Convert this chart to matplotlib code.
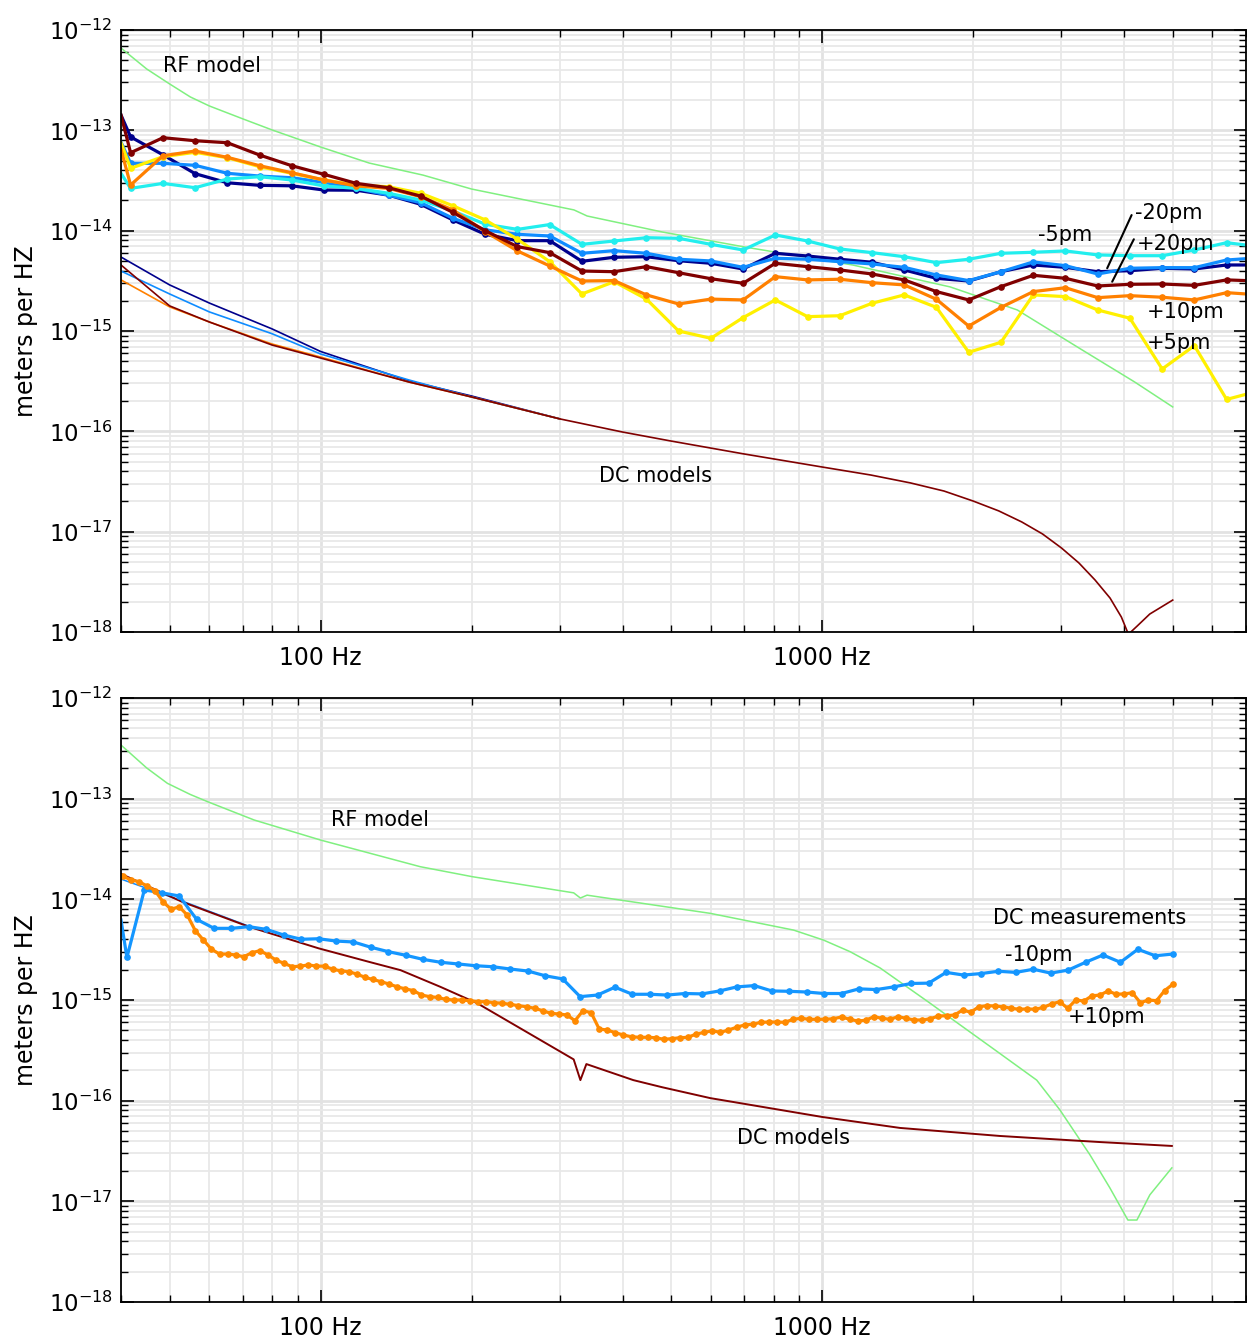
import numpy as np
import matplotlib
matplotlib.use('Agg')
import matplotlib.pyplot as plt
from matplotlib.ticker import FixedLocator, FixedFormatter, NullFormatter, LogFormatterSciNotation

# ---------------- data: top panel (RF measurements) ----------------
freq_top = [40.0, 41.8, 48.5, 56.2, 65.2, 75.6, 87.6, 101.6, 117.8, 136.6, 158.4, 183.6,
            212.9, 246.9, 286.3, 331.9, 384.9, 446.3, 517.4, 600.0, 695.7, 806.6, 935.3,
            1084.5, 1257.5, 1458, 1690, 1960, 2273, 2636, 3056, 3543, 4108, 4764, 5523,
            6404, 7000]
m20pm = [1.42e-13, 8.6e-14, 5.7e-14, 3.7e-14, 3.0e-14, 2.83e-14, 2.8e-14, 2.54e-14, 2.53e-14,
         2.26e-14, 1.83e-14, 1.28e-14, 9.2e-15, 7.95e-15, 7.95e-15, 4.95e-15, 5.43e-15, 5.5e-15,
         5.02e-15, 4.73e-15, 4.15e-15, 5.95e-15, 5.59e-15, 5.19e-15, 4.84e-15, 4.06e-15, 3.35e-15,
         3.15e-15, 3.9e-15, 4.55e-15, 4.31e-15, 3.9e-15, 3.99e-15, 4.22e-15, 4.15e-15, 4.55e-15,
         4.55e-15]
m10pm = [7.65e-14, 4.69e-14, 4.69e-14, 4.48e-14, 3.73e-14, 3.5e-14, 3.37e-14, 3.03e-14, 2.64e-14,
         2.26e-14, 1.9e-14, 1.33e-14, 1.02e-14, 9.2e-15, 8.85e-15, 5.95e-15, 6.32e-15, 5.95e-15,
         5.19e-15, 4.99e-15, 4.31e-15, 5.31e-15, 5.19e-15, 4.91e-15, 4.66e-15, 4.31e-15, 3.62e-15,
         3.18e-15, 3.9e-15, 4.88e-15, 4.48e-15, 3.7e-15, 4.22e-15, 4.28e-15, 4.28e-15, 5.1e-15,
         5.26e-15]
m5pm = [3.73e-14, 2.64e-14, 2.96e-14, 2.68e-14, 3.27e-14, 3.45e-14, 3.2e-14, 2.79e-14, 2.64e-14,
        2.36e-14, 2.02e-14, 1.57e-14, 1.16e-14, 1.03e-14, 1.15e-14, 7.31e-15, 7.89e-15, 8.51e-15,
        8.39e-15, 7.31e-15, 6.42e-15, 9.06e-15, 7.89e-15, 6.57e-15, 6.04e-15, 5.5e-15, 4.8e-15,
        5.19e-15, 5.95e-15, 6.09e-15, 6.28e-15, 5.73e-15, 5.63e-15, 5.63e-15, 6.42e-15, 7.59e-15,
        7.19e-15]
p5pm = [7.52e-14, 4.18e-14, 5.46e-14, 6.04e-14, 5.33e-14, 4.34e-14, 3.73e-14, 3.2e-14, 2.85e-14,
        2.74e-14, 2.36e-14, 1.77e-14, 1.28e-14, 8.21e-15, 4.91e-15, 2.34e-15, 3.1e-15, 2.08e-15,
        1.0e-15, 8.46e-16, 1.36e-15, 2.04e-15, 1.39e-15, 1.42e-15, 1.89e-15, 2.29e-15, 1.72e-15,
        6.14e-16, 7.72e-16, 2.29e-15, 2.2e-15, 1.62e-15, 1.34e-15, 4.18e-16, 7.14e-16, 2.08e-16,
        2.34e-16]
p10pm = [6.47e-14, 2.85e-14, 5.58e-14, 6.22e-14, 5.38e-14, 4.44e-14, 3.78e-14, 3.2e-14, 2.79e-14,
         2.64e-14, 2.18e-14, 1.61e-14, 9.77e-15, 6.28e-15, 4.45e-15, 3.15e-15, 3.18e-15, 2.29e-15,
         1.86e-15, 2.08e-15, 2.04e-15, 3.48e-15, 3.23e-15, 3.28e-15, 3.03e-15, 2.88e-15, 2.07e-15,
         1.12e-15, 1.72e-15, 2.47e-15, 2.7e-15, 2.15e-15, 2.25e-15, 2.17e-15, 2.04e-15, 2.41e-15,
         2.34e-15]
p20pm = [1.42e-13, 5.98e-14, 8.44e-14, 7.88e-14, 7.52e-14, 5.67e-14, 4.44e-14, 3.64e-14, 2.96e-14,
         2.68e-14, 2.21e-14, 1.52e-14, 1.0e-14, 6.93e-15, 6.04e-15, 3.96e-15, 3.9e-15, 4.38e-15,
         3.81e-15, 3.32e-15, 2.99e-15, 4.73e-15, 4.38e-15, 4.06e-15, 3.7e-15, 3.23e-15, 2.47e-15,
         2.04e-15, 2.77e-15, 3.59e-15, 3.35e-15, 2.81e-15, 2.92e-15, 2.94e-15, 2.85e-15, 3.23e-15,
         3.18e-15]

rf_top_f = [40, 45, 50, 55, 60, 70, 80, 100, 125, 160, 200, 250, 320, 340, 480, 700, 1150, 1800,
            2450, 3300, 4200, 5000]
rf_top = [6.61e-13, 4.09e-13, 2.90e-13, 2.15e-13, 1.75e-13, 1.30e-13, 1.01e-13, 6.82e-14,
          4.72e-14, 3.58e-14, 2.60e-14, 2.07e-14, 1.61e-14, 1.40e-14, 9.70e-15, 6.88e-15,
          4.55e-15, 2.75e-15, 1.62e-15, 6.47e-16, 3.10e-16, 1.75e-16]

dc_top_f = [40, 50, 60, 80, 100, 150, 200, 300, 400, 500, 700, 1000, 1250, 1500, 1750, 2000,
            2250, 2500, 2750, 3000, 3250, 3500, 3750, 3950, 4080, 4250, 4500, 5000]
dc_top_p20 = [4.55e-15, 1.78e-15, 1.23e-15, 7.25e-16, 5.38e-16, 3.10e-16, 2.20e-16, 1.33e-16,
              9.84e-17, 8.0e-17, 5.94e-17, 4.41e-17, 3.67e-17, 3.06e-17, 2.54e-17, 2.02e-17,
              1.61e-17, 1.25e-17, 9.49e-18, 6.88e-18, 4.88e-18, 3.30e-18, 2.18e-18, 1.41e-18,
              9.5e-19, 1.15e-18, 1.51e-18, 2.08e-18]
dc_low_f = [40, 50, 60, 80, 100, 150, 200, 300]
dc_top_m20 = [5.46e-15, 2.88e-15, 1.90e-15, 1.05e-15, 6.25e-16, 3.18e-16, 2.25e-16, 1.33e-16]
dc_top_m10 = [3.96e-15, 2.34e-15, 1.55e-15, 9.4e-16, 5.90e-16, 3.25e-16, 2.2e-16, 1.33e-16]
dc_top_p10 = [3.23e-15, 1.74e-15, 1.23e-15, 7.42e-16, 5.5e-16, 3.10e-16, 2.2e-16, 1.33e-16]

# ---------------- data: bottom panel (DC measurements) ----------------
f_bot_m10 = np.concatenate([[40.0], np.geomspace(41.1, 5000, 61)])
bot_m10 = [6.23e-15, 2.65e-15, 1.24e-14, 1.16e-14, 1.08e-14, 6.33e-15, 5.15e-15, 5.15e-15,
           5.35e-15, 5.03e-15, 4.42e-15, 4.01e-15, 4.06e-15, 3.85e-15, 3.77e-15, 3.34e-15,
           3.02e-15, 2.78e-15, 2.53e-15, 2.37e-15, 2.28e-15, 2.19e-15, 2.14e-15, 2.03e-15,
           1.94e-15, 1.74e-15, 1.62e-15, 1.08e-15, 1.12e-15, 1.34e-15, 1.14e-15, 1.14e-15,
           1.12e-15, 1.16e-15, 1.15e-15, 1.23e-15, 1.35e-15, 1.39e-15, 1.23e-15, 1.22e-15,
           1.20e-15, 1.16e-15, 1.16e-15, 1.29e-15, 1.27e-15, 1.35e-15, 1.46e-15, 1.47e-15,
           1.88e-15, 1.77e-15, 1.83e-15, 1.93e-15, 1.88e-15, 2.02e-15, 1.85e-15, 1.98e-15,
           2.37e-15, 2.80e-15, 2.37e-15, 3.19e-15, 2.75e-15, 2.86e-15]
f_bot_p10 = np.geomspace(40.3, 5000, 131)
bot_p10 = [1.71e-14, 1.56e-14, 1.50e-14, 1.36e-14, 1.22e-14, 9.47e-15, 7.96e-15, 8.44e-15, 6.98e-15, 4.88e-15,
           3.94e-15, 3.19e-15, 2.86e-15, 2.86e-15, 2.80e-15, 2.69e-15, 2.95e-15, 3.09e-15, 2.80e-15, 2.49e-15,
           2.31e-15, 2.14e-15, 2.17e-15, 2.23e-15, 2.17e-15, 2.17e-15, 2.02e-15, 1.95e-15, 1.91e-15, 1.81e-15,
           1.68e-15, 1.60e-15, 1.52e-15, 1.44e-15, 1.35e-15, 1.29e-15, 1.24e-15, 1.12e-15, 1.08e-15, 1.06e-15,
           1.015e-15, 1.0e-15, 1.0e-15, 9.84e-16, 9.62e-16, 9.62e-16, 9.40e-16, 9.27e-16, 9.06e-16, 8.78e-16,
           8.58e-16, 8.27e-16, 7.83e-16, 7.38e-16, 7.26e-16, 7.10e-16, 6.23e-16, 7.83e-16, 7.48e-16, 5.15e-16,
           5.03e-16, 4.73e-16, 4.49e-16, 4.31e-16, 4.26e-16, 4.26e-16, 4.22e-16, 4.07e-16, 4.13e-16, 4.22e-16,
           4.26e-16, 4.59e-16, 4.77e-16, 4.95e-16, 4.77e-16, 5.03e-16, 5.36e-16, 5.65e-16, 5.74e-16, 6.00e-16,
           6.04e-16, 6.04e-16, 6.00e-16, 6.43e-16, 6.58e-16, 6.43e-16, 6.43e-16, 6.43e-16, 6.52e-16, 6.78e-16,
           6.43e-16, 6.19e-16, 6.29e-16, 6.83e-16, 6.58e-16, 6.43e-16, 6.83e-16, 6.58e-16, 6.33e-16, 6.33e-16,
           6.52e-16, 6.93e-16, 6.98e-16, 7.10e-16, 7.96e-16, 7.55e-16, 8.58e-16, 8.78e-16, 8.72e-16, 8.58e-16,
           8.27e-16, 8.09e-16, 8.15e-16, 8.09e-16, 8.46e-16, 9.12e-16, 9.62e-16, 8.27e-16, 1.0e-15, 9.77e-16,
           1.10e-15, 1.12e-15, 1.23e-15, 1.14e-15, 1.15e-15, 1.18e-15, 9.40e-16, 1.0e-15, 9.84e-16, 1.24e-15,
           1.43e-15]

dc_bot_f = [40, 52.9, 71.9, 99.1, 125.8, 144.3, 173.4, 205.4, 319.6, 329.6, 338.8, 420.3, 479.7,
            598.4, 1000, 1430, 2262, 3580, 4980]
dc_bot = [1.79e-14, 9.47e-15, 5.35e-15, 3.26e-15, 2.37e-15, 1.98e-15, 1.35e-15, 9.27e-16,
          2.57e-16, 1.60e-16, 2.31e-16, 1.60e-16, 1.36e-16, 1.06e-16, 6.89e-17, 5.36e-17,
          4.46e-17, 3.88e-17, 3.55e-17]
dc_bot2_f = [40, 53, 72]
dc_bot2 = [1.59e-14, 9.6e-15, 5.4e-15]

rf_bot_f = [40, 45, 49.5, 55, 59.5, 73.7, 100, 158, 200.5, 319.6, 329.6, 339.9, 598, 877, 1006,
            1137, 1305, 1641, 1826, 2211, 2678, 2979, 3419, 3747, 4070, 4242, 4502, 4980]
rf_bot = [3.41e-13, 2.02e-13, 1.42e-13, 1.10e-13, 9.34e-14, 6.14e-14, 3.88e-14, 2.11e-14,
          1.68e-14, 1.16e-14, 1.03e-14, 1.10e-14, 7.26e-15, 4.95e-15, 3.94e-15, 3.02e-15,
          2.08e-15, 9.3e-16, 6.33e-16, 3.19e-16, 1.60e-16, 8.09e-17, 2.90e-17, 1.36e-17,
          6.52e-18, 6.52e-18, 1.16e-17, 2.15e-17]

xtick_vals = [100, 1000]
xtick_labels = ['100 Hz', '1000 Hz']

# ---------------- colours ----------------
NAVY = '#00008c'
BLUE = '#0f8cff'
CYAN = '#22eeee'
YELLOW = '#fff000'
ORANGE = '#ff8000'
DARKRED = '#800000'
GREEN = '#80f080'

W, H = 1247, 1343
fig = plt.figure(figsize=(W / 100, H / 100), dpi=100)

y_major = [10.0 ** e for e in range(-18, -11)]
y_minor = [m * 10.0 ** e for e in range(-18, -12) for m in range(2, 10)]
x_minor = [m * 10.0 ** e for e in (1, 2, 3) for m in range(2, 10) if 40 <= m * 10.0 ** e <= 7000]


def setup(ax):
    ax.set_xscale('log')
    ax.set_yscale('log')
    ax.set_xlim(40, 7000)
    ax.set_ylim(1e-18, 1e-12)
    ax.xaxis.set_major_locator(FixedLocator(xtick_vals))
    ax.xaxis.set_minor_locator(FixedLocator(x_minor))
    ax.yaxis.set_major_locator(FixedLocator(y_major))
    ax.yaxis.set_minor_locator(FixedLocator(y_minor))


def make_axes(rect):
    axg = fig.add_axes(rect, zorder=0)
    setup(axg)
    axg.grid(which='major', color='#e2e2e2', lw=2.0)
    axg.grid(which='minor', color='#e8e8e8', lw=1.3)
    axg.tick_params(which='both', length=0, labelleft=False, labelbottom=False)
    for s in axg.spines.values():
        s.set_visible(False)

    ax = fig.add_axes(rect, zorder=1)
    ax.patch.set_alpha(0)
    setup(ax)
    ax.xaxis.set_major_formatter(FixedFormatter(xtick_labels))
    ax.xaxis.set_minor_formatter(NullFormatter())
    ax.yaxis.set_major_formatter(LogFormatterSciNotation())
    ax.yaxis.set_minor_formatter(NullFormatter())
    ax.tick_params(which='both', direction='in', top=True, right=True, color='black')
    ax.tick_params(which='major', length=9, width=1.2)
    ax.tick_params(which='minor', length=5, width=1.0)
    ax.tick_params(axis='x', which='major', labelsize=17, pad=10)
    ax.tick_params(axis='y', which='major', labelsize=16.5, pad=6)
    for s in ax.spines.values():
        s.set_linewidth(1.3)
    ax.set_ylabel('meters per HZ', fontsize=17)
    ax.yaxis.set_label_coords(-0.074, 0.5)
    return ax


ax1 = make_axes([121 / W, 1 - 632 / H, 1125 / W, 602 / H])
ax2 = make_axes([121 / W, 1 - 1302 / H, 1125 / W, 604 / H])

# ---- top panel ----
ax1.plot(rf_top_f, rf_top, color=GREEN, lw=1.1)
ax1.plot(dc_low_f, dc_top_m20, color=NAVY, lw=1.2)
ax1.plot(dc_low_f, dc_top_m10, color=BLUE, lw=1.2)
ax1.plot(dc_low_f, dc_top_p10, color=ORANGE, lw=1.2)
ax1.plot(dc_top_f, dc_top_p20, color=DARKRED, lw=1.2)

mk = dict(marker='o', markersize=3.8, lw=2.3, markevery=slice(1, len(freq_top) - 1))
for vals, col in [(m20pm, NAVY), (m10pm, BLUE), (m5pm, CYAN), (p5pm, YELLOW),
                  (p10pm, ORANGE), (p20pm, DARKRED)]:
    ax1.plot(freq_top, vals, color=col, **mk)

fs = 15
ax1.text(48.4, 4.38e-13, 'RF model', fontsize=fs, ha='left', va='center')
ax1.text(465, 3.59e-17, 'DC models', fontsize=fs, ha='center', va='center')
ax1.text(3048, 9.06e-15, '-5pm', fontsize=fs, ha='center', va='center')
ax1.text(4203, 1.50e-14, '-20pm', fontsize=fs, ha='left', va='center')
ax1.text(4241, 7.36e-15, '+20pm', fontsize=fs, ha='left', va='center')
ax1.text(4441, 1.55e-15, '+10pm', fontsize=fs, ha='left', va='center')
ax1.text(4441, 7.59e-16, '+5pm', fontsize=fs, ha='left', va='center')
lp = dict(arrowstyle='-', color='black', lw=1.5, shrinkA=0, shrinkB=0)
ax1.annotate('', xy=(3701, 4.22e-15), xytext=(4140, 1.43e-14), arrowprops=lp)
ax1.annotate('', xy=(3787, 3.10e-15), xytext=(4183, 8.21e-15), arrowprops=lp)

# ---- bottom panel ----
ax2.plot(rf_bot_f, rf_bot, color=GREEN, lw=1.1)
ax2.plot(dc_bot2_f, dc_bot2, color=BLUE, lw=1.1)
ax2.plot(dc_bot_f, dc_bot, color=DARKRED, lw=1.4)
ax2.plot(f_bot_m10, bot_m10, color='#1496ff', marker='o', markersize=3.8, lw=2.3,
         markevery=slice(1, None))
ax2.plot(f_bot_p10, bot_p10, color='#ff8a00', marker='o', markersize=3.8, lw=2.3)

ax2.text(104.7, 6.14e-14, 'RF model', fontsize=fs, ha='left', va='center')
ax2.text(677, 4.26e-17, 'DC models', fontsize=fs, ha='left', va='center')
ax2.text(2191, 6.53e-15, 'DC measurements', fontsize=fs, ha='left', va='center')
ax2.text(2315, 2.80e-15, '-10pm', fontsize=fs, ha='left', va='center')
ax2.text(3090, 6.78e-16, '+10pm', fontsize=fs, ha='left', va='center')

fig.savefig('out.png', dpi=100)
